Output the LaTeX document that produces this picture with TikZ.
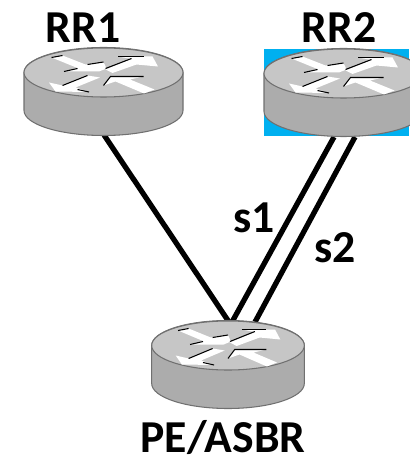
\documentclass[tikz,border=0pt]{standalone}
\usepackage{fontspec}
\setmainfont{Carlito}
\pgfdeclarelayer{bg}
\pgfsetlayers{bg,main}
\definecolor{rtop}{HTML}{C6C6C6}
\definecolor{rside}{HTML}{ACACAC}
\definecolor{redge}{HTML}{707070}
\definecolor{rblue}{HTML}{00B0F0}
\tikzset{
    lbl/.style={font=\fontsize{26}{26}\selectfont\bfseries, inner sep=0pt},
    link/.style={draw=black, line width=3pt},
    rarrow/.style={fill=white, draw=none},
    rline/.style={draw=black, line width=.6pt},
    router/.pic={
        \path [fill=rside, draw=redge, line width=.6pt] (-79.5,0) -- (-79.5,38)
            arc [start angle=180, end angle=0, x radius=79.5, y radius=25] -- (79.5,0)
            arc [start angle=0, end angle=-180, x radius=79.5, y radius=25];
        \path [fill=rtop, draw=redge, line width=.6pt] (0,0) ellipse [x radius=79.5, y radius=24.5];
        \path [rarrow] (-52,-15) -- (-41,-17) -- (-18,-8) -- (0,-10.5) -- (3,-4) -- (-4.5,-1) -- (-39.5,-1) -- (-26,-4.5) -- cycle;
        \path [rarrow] (2,-3) -- (28,-13.5) -- (14.5,-16) -- (49,-16) -- (54.5,-6) -- (33,-8) -- (9,0.5) -- cycle;
        \path [rarrow] (-54.5,10) -- (-48,19) -- (-14.5,19.5) -- (-28,15) -- (-3.5,5) -- (-16,3) -- (-41,13) -- cycle;
        \path [rarrow] (0,13) -- (7,4) -- (40,4) -- (26.5,7) -- (51,17) -- (40.5,21) -- (12,9) -- cycle;
        \draw [rline] (-52,-15) -- (-41,-17); \draw [rline] (-39.5,-1) -- (-26,-4);
        \draw [rline] (-16,-8) -- (0,-10.5); \draw [rline] (2,-4) -- (28,-14);
        \draw [rline] (14.5,-16) -- (40,-16); \draw [rline] (-41,13) -- (-16,3);
        \draw [rline] (0,13) -- (7,4) -- (40,4); \draw [rline] (-26,17) -- (-14.5,19.5);
    }
}

\begin{document}
\begin{tikzpicture}[x=0.02cm, y=-0.02cm]
	\useasboundingbox (0,0) rectangle (409,462);
	\fill [rblue] (264,49) rectangle (409,136);

	\pic at (103.5,72.5) {router};
	\pic at (343.5,73.5) {router};
	\pic [xscale=.96] at (228,345.5) {router};

	\coordinate (rr1) at (104,135);
	\coordinate (rr2a) at (334,137);
	\coordinate (rr2b) at (355,137);
	\coordinate (pea) at (229,322);
	\coordinate (peb) at (232,322);
	\coordinate (pec) at (255,322);

	\begin{pgfonlayer}{bg}
		\draw [link] (rr1) -- (pea);
		\draw [link] (rr2a) -- (peb);
		\draw [link] (rr2b) -- (pec);
	\end{pgfonlayer}

	\node (rr1 label) [lbl] at (83,28) {RR1};
	\node (rr2 label) [lbl] at (339,28) {RR2};
	\node (pe label) [lbl] at (223,438) {PE/ASBR};
	\node (s1) [lbl] at (254,218) {s1};
	\node (s2) [lbl] at (335,248) {s2};
\end{tikzpicture}
\end{document}
